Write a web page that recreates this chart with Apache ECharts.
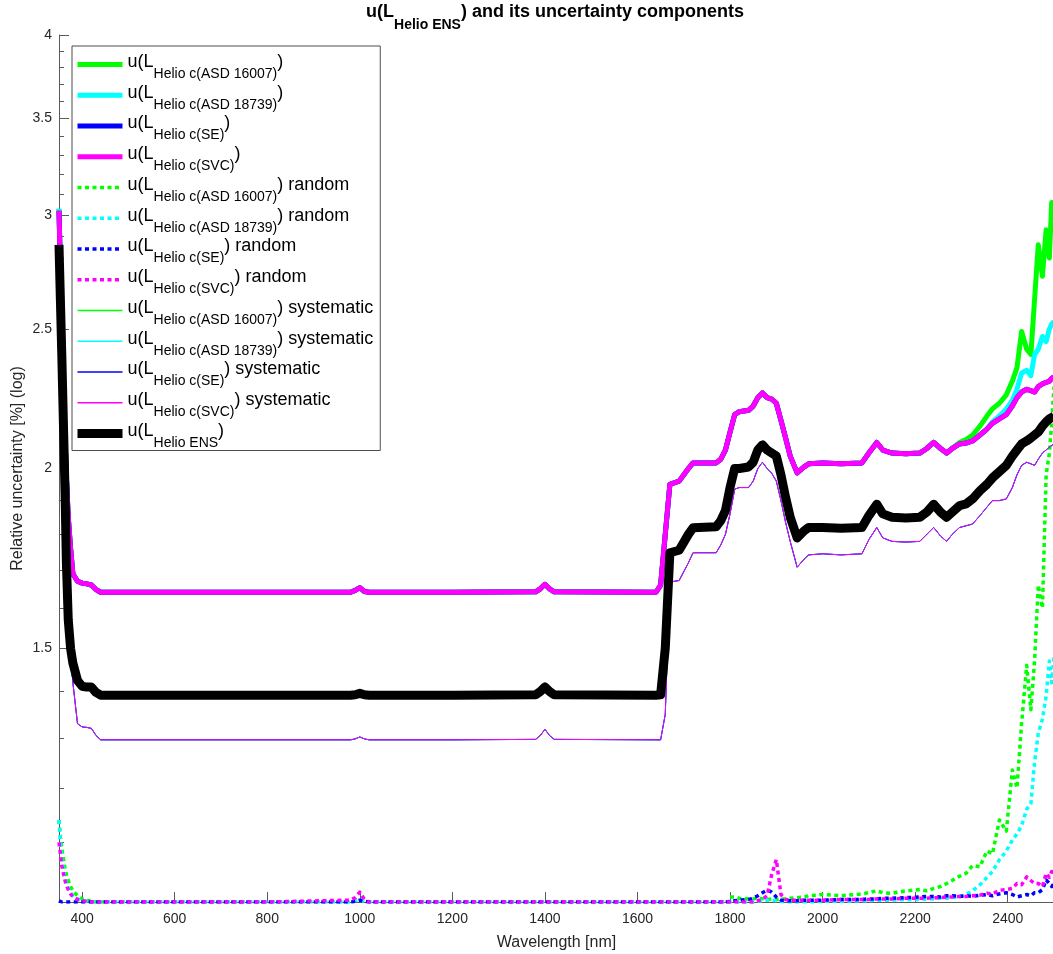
<!DOCTYPE html>
<html><head><meta charset="utf-8">
<script src="https://cdn.jsdelivr.net/npm/echarts@6/dist/echarts.min.js"></script>
<style>html,body{margin:0;padding:0;background:#fff}#c{width:1053px;height:954px}</style>
</head><body><div id="c"></div>
<script>
// ---- data ----
const wavelength = [
 350,353,356,360,363,366,370,375,380,390,400,410,420,430,440,450,
 600,800,980,990,1000,1010,1020,1200,1380,1390,1400,1410,1420,1640,
 1650,1660,1670,1690,1710,1720,1770,1780,1790,1800,
 1810,1820,1840,1850,1860,1870,1880,1890,1900,1910,
 1920,1930,1945,1960,1970,2000,2040,2085,2100,2117,
 2130,2150,2180,2210,2225,2240,2255,2268,2280,2296,
 2310,2324,2340,2355,2367,2382,2397,2410,2420,2430,
 2441,2450,2458,2466,2475,2483,2490,2495,2500];

const svcCombined = [
 3.02,2.75,2.50,2.25,2.10,1.97,1.85,1.76,1.69,1.67,1.665,1.663,1.66,1.648,1.641,1.641,
 1.641,1.641,1.641,1.646,1.653,1.643,1.641,1.641,1.642,1.65,1.662,1.65,1.642,1.641,
 1.66,1.80,1.95,1.96,2.00,2.018,2.018,2.03,2.06,2.12,
 2.18,2.19,2.195,2.21,2.24,2.257,2.24,2.235,2.22,2.16,
 2.10,2.04,1.986,2.005,2.015,2.018,2.015,2.018,2.05,2.085,
 2.06,2.05,2.048,2.05,2.065,2.085,2.065,2.05,2.065,2.08,
 2.083,2.09,2.11,2.13,2.15,2.165,2.18,2.21,2.24,2.26,
 2.27,2.265,2.26,2.28,2.29,2.295,2.30,2.31,2.315];
// SE combined curve coincides with the SVC one
const seCombined = svcCombined;
// ASD curves: same as SVC except the first point and the long-wavelength tail
const asdStart = 3.03;
const asd16007Tail = [2.085, 2.095,2.11,2.14,2.175,2.20,2.22,2.25,2.30,2.35,2.49,
 2.42,2.40,2.62,2.86,2.72,2.93,2.80,3.06,2.97];       // from 2296 nm
const asd18739Tail = [2.155,2.175,2.20,2.23,2.27,2.33,
 2.34,2.32,2.40,2.42,2.47,2.45,2.50,2.52,2.53];       // from 2367 nm

const systematic = [
 2.72,2.50,2.25,2.00,1.80,1.65,1.55,1.48,1.42,1.33,1.323,1.322,1.32,1.305,1.296,1.296,
 1.296,1.296,1.296,1.298,1.302,1.298,1.296,1.296,1.297,1.305,1.318,1.305,1.297,1.296,
 1.296,1.35,1.668,1.672,1.72,1.748,1.748,1.77,1.80,1.86,
 1.935,1.94,1.94,1.96,2.00,2.02,2.00,1.985,1.96,1.90,
 1.835,1.78,1.708,1.73,1.742,1.745,1.742,1.745,1.785,1.82,
 1.79,1.78,1.778,1.78,1.80,1.82,1.795,1.78,1.80,1.82,
 1.825,1.83,1.855,1.88,1.90,1.90,1.905,1.94,1.98,2.01,
 2.02,2.015,2.01,2.03,2.05,2.06,2.07,2.075,2.08];

const ensemble = [
 2.86,2.62,2.40,2.12,1.93,1.72,1.57,1.50,1.465,1.425,1.412,1.41,1.41,1.398,1.392,1.392,
 1.392,1.392,1.392,1.393,1.396,1.393,1.392,1.392,1.393,1.40,1.41,1.40,1.393,1.392,
 1.393,1.50,1.748,1.755,1.80,1.819,1.822,1.84,1.87,1.94,
 2.00,2.00,2.005,2.02,2.06,2.077,2.06,2.05,2.04,1.98,
 1.91,1.85,1.79,1.81,1.82,1.82,1.818,1.82,1.855,1.889,
 1.86,1.85,1.848,1.85,1.865,1.889,1.865,1.85,1.865,1.885,
 1.89,1.905,1.93,1.95,1.97,1.99,2.01,2.04,2.06,2.08,
 2.09,2.10,2.11,2.12,2.14,2.155,2.165,2.17,2.175];

const randAsd16007 = [
 1.14,1.11,1.09,1.07,1.055,1.045,1.035,1.025,1.018,1.01,1.005,1.003,1.001,1.0,1.0,1.0,
 null,null,null,null,null,null,null,null,null,null,null,null,null,null,
 null,null,null,null,null,null,null,null,null,1.008,
 1.008,1.006,1.005,1.005,1.006,1.005,1.004,1.005,1.004,1.005,
 1.005,1.006,1.007,1.008,1.01,1.012,1.01,1.013,1.015,1.018,
 1.015,1.014,1.018,1.02,1.018,1.022,1.025,1.03,1.035,1.042,
 1.047,1.06,1.058,1.085,1.08,1.14,1.12,1.235,1.20,1.33,
 1.46,1.36,1.47,1.66,1.60,1.98,2.05,2.15,2.28];

const randAsd18739 = [
 1.14,1.10,1.07,1.05,1.04,1.03,1.022,1.015,1.01,1.005,1.002,1.001,1.0,1.0,1.0,1.0,
 1.0,1.0,1.0,1.002,1.004,1.001,1.0,1.0,1.0,1.0,1.0,1.0,1.0,1.0,
 1.0,1.0,1.0,1.0,1.0,1.0,1.0,1.0,1.0,1.0,
 1.0,1.0,1.0,1.0,1.001,1.002,1.003,1.003,1.002,1.001,
 1.0,1.0,1.0,1.0,1.0,1.001,1.001,1.002,1.002,1.003,
 1.003,1.003,1.004,1.004,1.005,1.005,1.006,1.006,1.007,1.009,
 1.012,1.018,1.028,1.04,1.05,1.07,1.085,1.104,1.115,1.13,
 1.16,1.17,1.25,1.31,1.34,1.39,1.47,1.42,1.48];

const randSE = [
 1.002,1.001,1.0,1.0,1.0,1.0,1.0,1.0,1.0,1.0,1.0,1.0,1.0,1.0,1.0,1.0,
 1.0,1.0,1.0,1.001,1.003,1.001,1.0,1.0,1.0,1.0,1.0,1.0,1.0,1.0,
 1.0,1.0,1.0,1.0,1.0,1.0,1.0,1.0,1.0,1.001,
 1.002,1.003,1.004,1.006,1.01,1.015,1.019,1.016,1.008,1.003,
 1.002,1.002,1.002,1.003,1.003,1.003,1.004,1.004,1.005,1.005,
 1.006,1.006,1.007,1.008,1.009,1.009,1.008,1.01,1.01,1.009,
 1.01,1.009,1.011,1.012,1.01,1.013,1.015,1.012,1.008,1.01,
 1.012,1.01,1.015,1.015,1.02,1.036,1.03,1.025,1.03];

const randSVC = [
 1.10,1.08,1.06,1.045,1.035,1.027,1.02,1.013,1.008,1.004,1.002,1.001,1.0,1.0,1.0,1.0,
 1.0,1.0,1.003,1.007,1.016,1.004,1.0,1.0,1.0,1.0,1.0,1.0,1.0,1.0,
 1.0,1.0,1.0,1.0,1.0,1.0,1.0,1.0,1.0,1.0,
 1.0,1.0,1.0,1.0,1.002,1.004,1.01,1.045,1.07,1.012,
 1.004,1.003,1.003,1.003,1.003,1.003,1.004,1.004,1.004,1.005,
 1.005,1.005,1.006,1.006,1.006,1.007,1.007,1.008,1.008,1.009,
 1.009,1.01,1.011,1.014,1.013,1.019,1.02,1.022,1.03,1.028,
 1.041,1.035,1.03,1.03,1.025,1.047,1.04,1.05,1.045];

const xTicks = [400,600,800,1000,1200,1400,1600,1800,2000,2200,2400];
const yMajorTicks = [1.5,2,2.5,3,3.5,4];
const yMinorTicks = [1.1,1.2,1.3,1.4,1.6,1.7,1.8,1.9,2.1,2.2,2.3,2.4,2.6,2.7,2.8,2.9,3.1,3.2,3.3,3.4,3.6,3.7,3.8,3.9];

const instruments = ['ASD 16007','ASD 18739','SE','SVC'];
const instrumentColors = ['#00ff00','#00ffff','#0000ff','#ff00ff'];

// ---- build ----
const asd16007Combined = [asdStart].concat(svcCombined.slice(1, 69), asd16007Tail);
const asd18739Combined = [asdStart].concat(svcCombined.slice(1, 74), asd18739Tail);
const combinedSets = [asd16007Combined, asd18739Combined, seCombined, svcCombined];
const randomSets = [randAsd16007, randAsd18739, randSE, randSVC];

const FONT = '"Liberation Sans", Arial, Helvetica, sans-serif';
const TXT = '#262626';
const AX = '#5a5a5a';
const DOT = [4, 3.5];

function pairs(vals) { return wavelength.map((w, i) => [w, vals[i] == null ? null : vals[i]]); }

const series = [];
const legendData = [];
const legendText = {};
function addSeries(name, rich, vals, color, width, dash, iconWidth) {
  series.push({
    name, type: 'line', data: pairs(vals), symbol: 'none', showSymbol: false,
    connectNulls: false, clip: true, silent: true, animation: false,
    lineStyle: { color, width, type: dash || 'solid', cap: 'butt', join: 'round' },
    itemStyle: { color }, emphasis: { disabled: true }
  });
  legendData.push({ name, lineStyle: { color, width: iconWidth || width, type: dash || 'solid', cap: 'butt', opacity: 1 }, itemStyle: { color, opacity: 0 } });
  legendText[name] = rich;
}
instruments.forEach((ins, k) => {
  addSeries('comb ' + ins, '{a|u(L}{s|Helio c(' + ins + ')}{a|)}', combinedSets[k], instrumentColors[k], 5);
});
instruments.forEach((ins, k) => {
  addSeries('rand ' + ins, '{a|u(L}{s|Helio c(' + ins + ')}{a|) random}', randomSets[k], instrumentColors[k], 3.5, DOT);
});
instruments.forEach((ins, k) => {
  addSeries('sys ' + ins, '{a|u(L}{s|Helio c(' + ins + ')}{a|) systematic}', systematic, instrumentColors[k], 1, null, 1.5);
});
addSeries('ENS', '{a|u(L}{s|Helio ENS}{a|)}', ensemble, '#000000', 9);

const chart = echarts.init(document.getElementById('c'), null, { renderer: 'canvas' });
chart.setOption({
  animation: false,
  backgroundColor: '#ffffff',
  graphic: [{
    type: 'text', x: 555, y: 2, silent: true,
    style: {
      text: '{b|u(L}{s|Helio ENS}{b|) and its uncertainty components}',
      align: 'center', verticalAlign: 'top',
      rich: {
        b: { fontFamily: FONT, fontSize: 18, fontWeight: 'bold', fill: '#000', color: '#000', verticalAlign: 'top', padding: [1, 0, 0, 0] },
        s: { fontFamily: FONT, fontSize: 14, fontWeight: 'bold', fill: '#000', color: '#000', verticalAlign: 'top', padding: [16, 0, 0, 0] }
      }
    }
  }],
  grid: { left: 59, top: 35, width: 995, height: 867, containLabel: false, outerBoundsMode: 'none' },
  legend: {
    orient: 'vertical', left: 72, top: 46,
    padding: [7, 7, 0.5, 1], itemGap: 2.75, itemWidth: 45, itemHeight: 14,
    backgroundColor: '#ffffff', borderColor: '#4d4d4d', borderWidth: 1, borderRadius: 0,
    selectedMode: false, data: legendData,
    formatter: name => legendText[name],
    textStyle: {
      rich: {
        a: { fontFamily: FONT, fontSize: 18, color: '#000', verticalAlign: 'top', padding: [5, 0, 0, 0] },
        s: { fontFamily: FONT, fontSize: 14, color: '#000', verticalAlign: 'top', padding: [19, 0, 0, 0] }
      }
    }
  },
  xAxis: {
    type: 'value', min: 350, max: 2500,
    name: 'Wavelength [nm]', nameLocation: 'middle', nameGap: 33,
    nameTextStyle: { fontFamily: FONT, fontSize: 16, color: TXT },
    axisLine: { show: true, onZero: false, lineStyle: { color: AX, width: 1 } },
    axisTick: { show: true, inside: true, length: 10, customValues: xTicks, lineStyle: { color: AX } },
    axisLabel: { customValues: xTicks, fontFamily: FONT, fontSize: 14, color: TXT, margin: 10, formatter: v => String(v) },
    splitLine: { show: false }
  },
  yAxis: [{
    type: 'log', logBase: 10, min: 1, max: 4, position: 'left',
    name: 'Relative uncertainty [%] (log)', nameLocation: 'middle', nameGap: 33, nameMoveOverlap: false,
    nameTextStyle: { fontFamily: FONT, fontSize: 16, color: TXT },
    axisLine: { show: true, lineStyle: { color: AX, width: 1 } },
    axisTick: { show: true, inside: true, length: 10, customValues: yMajorTicks, lineStyle: { color: AX } },
    axisLabel: { customValues: yMajorTicks, fontFamily: FONT, fontSize: 14, color: TXT, margin: 7, formatter: v => String(Math.round(v * 10) / 10) },
    splitLine: { show: false }, minorTick: { show: false }
  }, {
    type: 'log', logBase: 10, min: 1, max: 4, position: 'left', offset: 0,
    axisLine: { show: false },
    axisTick: { show: true, inside: true, length: 5, customValues: yMinorTicks, lineStyle: { color: AX } },
    axisLabel: { show: false },
    splitLine: { show: false }
  }],
  series
});
</script>
</body></html>
